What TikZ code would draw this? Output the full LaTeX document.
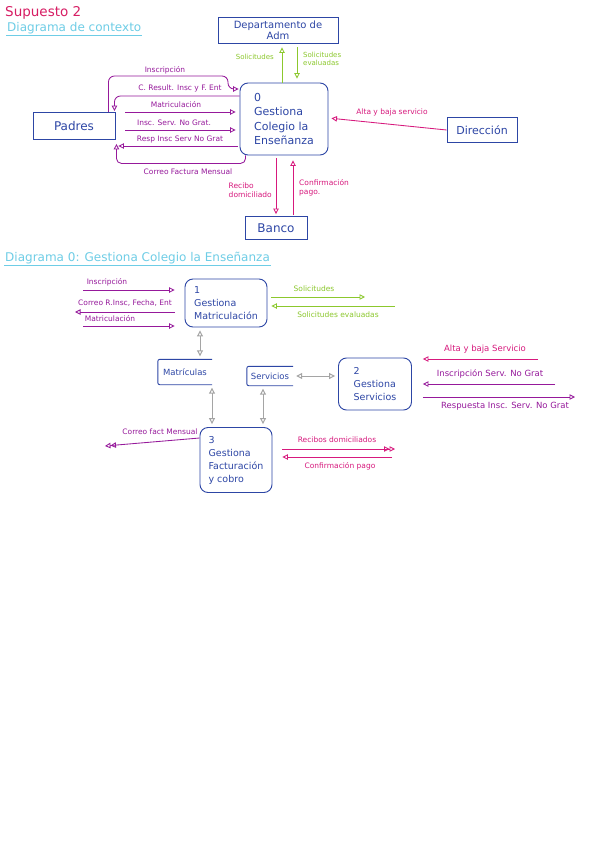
\documentclass[tikz,border=0pt]{standalone}
\usepackage{fontspec}
\setmainfont{DejaVu Sans}
\usepackage{tikz}
\usetikzlibrary{positioning,arrows.meta}
\tikzset{>=Stealth}
\definecolor{color1}{RGB}{45,70,165}
\definecolor{color2}{RGB}{150,25,155}
\definecolor{color3}{RGB}{215,25,125}
\definecolor{color4}{RGB}{140,200,45}
\definecolor{color5}{RGB}{110,205,230}
\definecolor{color6}{RGB}{165,165,165}
\definecolor{color7}{RGB}{215,30,100}
\tikzset{
  heading/.style={anchor=west, inner sep=1pt, font=\fontsize{12}{14}\selectfont},
  entity/.style={draw=color1, text=color1, line width=0.9pt, align=center, font=\fontsize{11}{13}\selectfont},
  process/.style={draw=color1, text=color1, line width=0.9pt, rounded corners=8pt, align=left, font=\fontsize{9.5}{13}\selectfont},
  store/.style={text=color1, font=\fontsize{8.5}{10}\selectfont},
  lbl/.style={inner sep=1pt, font=\fontsize{7.5}{9}\selectfont},
  flow/.style={-{Triangle[open,length=5.5pt,width=5.5pt]}, line width=0.85pt},
  dflow/.style={-{Triangle[open,length=5.5pt,width=5.5pt] Triangle[open,length=5.5pt,width=5.5pt]}, line width=0.85pt},
  link/.style={{Triangle[open,length=6pt,width=6pt]}-{Triangle[open,length=6pt,width=6pt]}, color6, line width=1pt, shorten <=3pt, shorten >=3pt}
}

\begin{document}
\begin{tikzpicture}[x=1pt,y=-1pt]
  % Page
  \fill[white] (0,0) rectangle (600,848);
  \useasboundingbox (0,0) rectangle (600,848);

  % Titles
  \node[heading, text=color7, font=\fontsize{13.5}{15}\selectfont] (sup) at (4,13) {Supuesto 2};
  \node[heading, text=color5] (ctx) at (6,28) {Diagrama de contexto};
  \draw[color5] (ctx.south west) -- (ctx.south east);

  % Context diagram
  \node[entity, minimum width=120pt, minimum height=26pt, font=\fontsize{10}{11}\selectfont] (dpto) at (278,30) {Departamento de\\Adm};
  \node[entity, minimum width=82pt, minimum height=27pt, font=\fontsize{12}{14}\selectfont] (padres) at (74,126) {Padres};
  \node[process, minimum width=88pt, minimum height=72pt, font=\fontsize{11}{14.5}\selectfont] (proc0) at (284,119) {0\\Gestiona\\Colegio la\\Enseñanza};
  \node[entity, minimum width=70pt, minimum height=25pt] (dir) at (482,130) {Dirección};
  \node[entity, minimum width=62pt, minimum height=23pt, font=\fontsize{12}{14}\selectfont] (banco) at (276,228) {Banco};

  % Padres <-> proceso 0
  \draw[flow, color2, rounded corners=6pt, shorten >=1pt] ([xshift=-7pt]padres.north east) |- (228,76) |- (proc0.west |- 0,89);
  \node[lbl, text=color2] (linsc0) at (165,70) {Inscripción};
  \draw[flow, color2, rounded corners=6pt, shorten >=1pt] (proc0.west |- 0,96) -| ([xshift=-1pt]padres.north east);
  \node[lbl, text=color2] (lcres0) at (180,88) {C. Result. Insc y F. Ent};
  \draw[flow, color2, shorten <=10pt, shorten >=4pt] (padres.east |- 0,112) -- (proc0.west |- 0,112);
  \node[lbl, text=color2] (lmat0) at (176,105) {Matriculación};
  \draw[flow, color2, shorten <=10pt, shorten >=4pt] (padres.east |- 0,130) -- (proc0.west |- 0,130);
  \node[lbl, text=color2] (lisg0) at (174,123) {Insc. Serv. No Grat.};
  \draw[flow, color2, shorten <=2pt, shorten >=3pt] (proc0.west |- 0,146) -- (padres.east |- 0,146);
  \node[lbl, text=color2] (lrsg0) at (180,139) {Resp Insc Serv No Grat};
  \draw[flow, color2, rounded corners=5pt, shorten >=4pt] ([xshift=6pt]proc0.south west) -- ++(0,8) -| ([xshift=1pt]padres.south east);
  \node[lbl, text=color2] (lcfm0) at (188,172) {Correo Factura Mensual};

  % Departamento de Adm
  \draw[flow, color4, shorten >=4pt] ([xshift=-2pt]proc0.north) -- ([xshift=-2pt]proc0.north |- dpto.south);
  \node[lbl, text=color4, anchor=east, font=\fontsize{7}{8.5}\selectfont] (lsol0) at (275,57) {Solicitudes};
  \draw[flow, color4, shorten <=4pt, shorten >=4pt] ([xshift=13pt]proc0.north |- dpto.south) -- ([xshift=13pt]proc0.north);
  \node[lbl, text=color4, anchor=west, align=left, font=\fontsize{7}{8.5}\selectfont] (lsev0) at (302,59) {Solicitudes\\evaluadas};

  % Direccion
  \draw[flow, color3, shorten >=3pt] (dir.west) -- (proc0.east |- 0,118);
  \node[lbl, text=color3] (lalt0) at (392,112) {Alta y baja servicio};

  % Banco
  \draw[flow, color3, shorten >=2pt, shorten <=3pt] ([xshift=-8pt]proc0.south) -- ([xshift=-8pt]proc0.south |- banco.north);
  \node[lbl, text=color3, anchor=east, align=left] (lrec0) at (273,190) {Recibo\\domiciliado};
  \draw[flow, color3, shorten <=1pt, shorten >=5pt] ([xshift=9pt]proc0.south |- banco.north) -- ([xshift=9pt]proc0.south);
  \node[lbl, text=color3, anchor=west, align=left] (lcon0) at (298,188) {Confirmación\\pago.};

  % Diagram 0
  \node[heading, text=color5] (dg0) at (4,258) {Diagrama 0: Gestiona Colegio la Enseñanza};
  \draw[color5] (dg0.south west) -- (dg0.south east);

  \node[process, minimum width=82pt, minimum height=48pt] (proc1) at (226,303) {1\\Gestiona\\Matriculación};
  \node[store, minimum width=54pt, minimum height=25pt] (matr) at (185,372) {Matrículas};
  \node[store, minimum width=46pt, minimum height=19pt] (serv) at (270,376) {Servicios};
  \node[process, minimum width=73pt, minimum height=52pt] (proc2) at (375,384) {2\\Gestiona\\Servicios};
  \node[process, minimum width=72pt, minimum height=65pt] (proc3) at (236,460) {3\\Gestiona\\Facturación\\y cobro};

  % Data stores, open on the right
  \foreach \s in {matr,serv}
    \draw[color1, line width=0.9pt, rounded corners=2pt] (\s.north east) -- (\s.north west) -- (\s.south west) -- (\s.south east);

  % Proceso 1
  \coordinate (ins1) at (83,290);
  \coordinate (cor1) at (75,312);
  \coordinate (mat1) at (83,326);
  \draw[flow, color2, shorten >=10pt] (ins1) -- (proc1.west |- ins1);
  \node[lbl, text=color2] (lins1) at (107,282) {Inscripción};
  \draw[flow, color2, shorten <=10pt] (proc1.west |- cor1) -- (cor1);
  \node[lbl, text=color2] (lcor1) at (125,303) {Correo R.Insc, Fecha, Ent};
  \draw[flow, color2, shorten >=10pt] (mat1) -- (proc1.west |- mat1);
  \node[lbl, text=color2] (lmat1) at (110,319) {Matriculación};

  \coordinate (sol1) at (365,297);
  \coordinate (sev1) at (395,306);
  \draw[flow, color4, shorten <=4pt] (proc1.east |- sol1) -- (sol1);
  \node[lbl, text=color4] (lsol1) at (314,289) {Solicitudes};
  \draw[flow, color4, shorten >=4pt] (sev1) -- (proc1.east |- sev1);
  \node[lbl, text=color4] (lsev1) at (338,315) {Solicitudes evaluadas};

  % Stores
  \draw[link] ([xshift=15pt]matr.north) -- ([xshift=15pt]matr.north |- proc1.south);
  \draw[link] ([xshift=27pt]matr.south) -- ([xshift=27pt]matr.south |- proc3.north);
  \draw[link] ([xshift=-7pt]serv.south) -- ([xshift=-7pt]serv.south |- proc3.north);
  \draw[link] (serv.east) -- (proc2.west |- serv.east);

  % Proceso 2
  \coordinate (alt2) at (538,359);
  \coordinate (ins2) at (555,384);
  \coordinate (res2) at (575,397);
  \draw[flow, color3, shorten >=11pt] (alt2) -- (proc2.east |- alt2);
  \node[lbl, text=color3, font=\fontsize{8.5}{10}\selectfont] (lalt2) at (485,349) {Alta y baja Servicio};
  \draw[flow, color2, shorten >=11pt] (ins2) -- (proc2.east |- ins2);
  \node[lbl, text=color2, font=\fontsize{8.5}{10}\selectfont] (lins2) at (490,374) {Inscripción Serv. No Grat};
  \draw[flow, color2, shorten <=11pt] (proc2.east |- res2) -- (res2);
  \node[lbl, text=color2, font=\fontsize{8.5}{10}\selectfont] (lres2) at (505,406) {Respuesta Insc. Serv. No Grat};

  % Proceso 3
  \coordinate (cfm3) at (105,446);
  \coordinate (rec3) at (395,449);
  \coordinate (con3) at (392,457);
  \draw[dflow, color2] ([yshift=22pt]proc3.west) -- (cfm3);
  \node[lbl, text=color2] (lcfm3) at (160,432) {Correo fact Mensual};
  \draw[dflow, color3, shorten <=10pt] (proc3.east |- rec3) -- (rec3);
  \node[lbl, text=color3] (lrec3) at (337,440) {Recibos domiciliados};
  \draw[flow, color3, shorten >=10pt] (con3) -- (proc3.east |- con3);
  \node[lbl, text=color3] (lcon3) at (340,466) {Confirmación pago};
\end{tikzpicture}
\end{document}
